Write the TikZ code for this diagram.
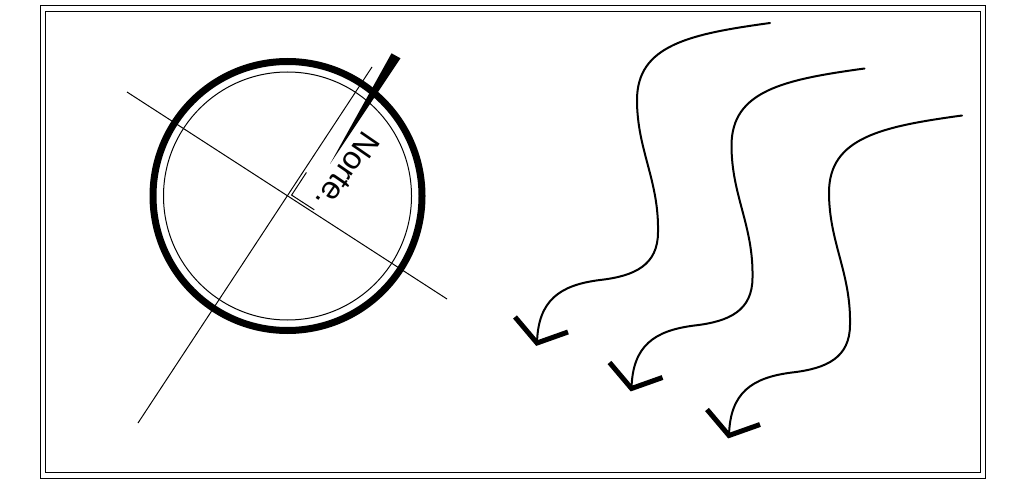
\documentclass[tikz,border=0pt]{standalone}
\usepackage{fontspec}
\setmainfont{Liberation Sans}
\begin{document}
\begin{tikzpicture}[x=1pt,y=-1pt,
  thin line/.style={line width=1pt, black},
  rim/.style={line width=7pt, black},
  wave/.style={line width=2pt, black, line cap=round},
  chevron/.style={line width=5pt, black, line join=miter, line cap=butt},
  label/.style={inner sep=0pt, font=\fontsize{32}{32}\selectfont}]
\useasboundingbox (0,0) rectangle (1011,481);
% frame
\draw[thin line] (40,6) rectangle (985.5,478);
\draw[thin line] (45,12) rectangle (980,472.5);
% compass
\coordinate (c) at (287.5,196);
\draw[rim] (c) circle[radius=134.5pt];
\draw[thin line] (c) circle[radius=124pt];
\coordinate (a1) at (127,92);
\coordinate (a2) at (447,299);
\coordinate (b1) at (138,423);
\coordinate (b2) at (372,67);
\draw[thin line] (a1) -- (a2);
\draw[thin line] (b1) -- (b2);
% right-angle mark
\coordinate (k) at (291.6,195.1);
\draw[thin line] (306.4,172.5) -- (k) -- (314.3,209.8);
% needle
\fill[black] (391.5,53.3) -- (400.5,58.3) -- (330,164) -- cycle;
\node[label, anchor=base west, rotate=-124.5] (norte) at (364,129) {Norte.};
% wavy arrows
\foreach \dx/\dy [count=\i] in {0/0, 94.5/45.5, 192/92.5}{
  \begin{scope}[shift={(\dx,\dy)}]
    \coordinate (s\i) at (770,23);
    \coordinate (t\i) at (537,343);
    \draw[wave] (s\i) .. controls (690,34) and (637,45) .. (637,100)
      .. controls (637,150) and (659,180) .. (658,232)
      .. controls (658,265) and (635,276) .. (600,280)
      .. controls (560,285) and (538,300) .. (t\i);
    \draw[chevron] (515,317) -- (t\i) -- (568,332);
  \end{scope}
}
\end{tikzpicture}
\end{document}
